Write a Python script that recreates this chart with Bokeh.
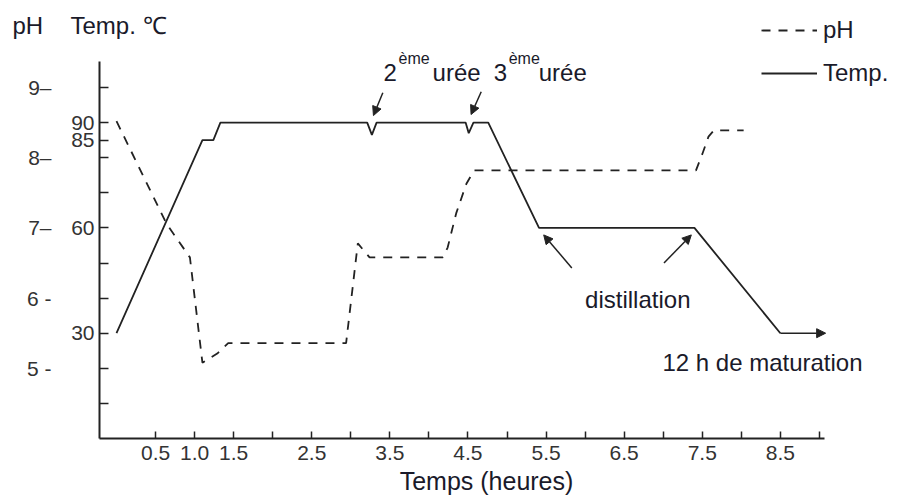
from bokeh.plotting import figure
from bokeh.models import (Range1d, LinearAxis, FixedTicker, CustomJSTickFormatter, Label,
                          Arrow, NormalHead, Legend, LegendItem)
from bokeh.embed import file_html
from bokeh.resources import INLINE

# ---------------- data ----------------
ph_time = [0.0, 0.64, 0.94, 1.10, 1.29, 1.43, 2.94, 3.09, 3.24, 4.18, 4.24, 4.35, 4.48, 4.58,
           7.42, 7.50, 7.58, 7.65, 8.03]
ph_values = [8.52, 7.06, 6.58, 5.08, 5.21, 5.36, 5.36, 6.78, 6.58, 6.58, 6.72, 7.21, 7.63, 7.82,
             7.82, 8.05, 8.30, 8.39, 8.39]

temp_time = [0.0, 1.10, 1.24, 1.33, 3.21, 3.27, 3.33, 4.47, 4.51, 4.57, 4.76, 5.41, 7.40, 8.50]
temp_values = [30, 85, 85, 90, 90, 86.5, 90, 90, 87, 90, 90, 60, 60, 30]

x_ticks = [0.5, 1.0, 1.5, 2.0, 2.5, 3.0, 3.5, 4.0, 4.5, 5.0, 5.5, 6.0, 6.5, 7.0, 7.5, 8.0, 8.5, 9.0]
x_tick_labels = ["0.5", "1.0", "1.5", "", "2.5", "", "3.5", "", "4.5", "", "5.5", "", "6.5", "",
                 "7.5", "", "8.5", ""]
ph_ticks = [5, 6, 7, 8, 9]
ph_tick_labels = ["5 -", "6 -", "7\u2013", "8\u2013", "9\u2013"]
temp_ticks = [10, 20, 30, 40, 50, 60, 70, 80, 85, 90, 100]
temp_tick_labels = ["", "", "30", "", "", "60", "", "", "85", "90", ""]

INK = "#222222"
TXT = "#1a1a2a"
TICK_TXT = "#333333"
FONT = "Liberation Sans"

W, H = 895, 496
# time axis: 78.1 px per hour, t = 0 at 116 px ; pH axis: 70.2 px per unit, pH 9 at 87 px
X_START, X_END = -116 / 78.1, (W - 116) / 78.1
PH_TOP, PH_BOTTOM = 9 + 87 / 70.2, 9 - (H - 87) / 70.2
T_AXIS_X = (99 - 116) / 78.1      # where the drawn vertical axis stands
PH_LABEL_X = (57 - 116) / 78.1    # column of the pH tick labels
BASE_FIX = 8                      # lift for alphabetic baselines


def t2ph(temp):
    """temperature scale is drawn against the pH scale: 30 C <-> pH 5.5, 90 C <-> pH 8.5"""
    return (temp + 80.0) / 20.0


p = figure(width=W, height=H, output_backend="svg", toolbar_location=None, tools="",
           x_range=Range1d(X_START, X_END), y_range=Range1d(PH_BOTTOM, PH_TOP),
           y_axis_location=None, title=None,
           min_border_left=0, min_border_right=0, min_border_top=0, min_border_bottom=0)
p.extra_y_ranges = {"temp": Range1d(20 * PH_BOTTOM - 80, 20 * PH_TOP - 80)}
p.outline_line_color = None
p.grid.visible = False
p.background_fill_color = "white"
p.border_fill_color = "white"

ph_line = p.line(ph_time, ph_values, line_dash="9 8", line_width=1.8, line_color=INK)
temp_line = p.line(temp_time, temp_values, y_range_name="temp", line_width=1.8, line_color=INK)

# x axis (drawn at pH 4.0)
xa = p.xaxis[0]
xa.fixed_location = 4.0
xa.ticker = FixedTicker(ticks=x_ticks)
xa.formatter = CustomJSTickFormatter(
    args=dict(labels={f"{t:.1f}": l for t, l in zip(x_ticks, x_tick_labels)}),
    code="const k = tick.toFixed(1); return (k in labels) ? labels[k] : '';")
xa.bounds = (T_AXIS_X, 9.06)
xa.major_tick_in = 7
xa.major_tick_out = 0
xa.minor_tick_line_color = None
xa.axis_line_width = 2
xa.axis_line_color = INK
xa.major_tick_line_width = 1.5
xa.major_tick_line_color = INK
xa.major_label_standoff = 7
xa.major_label_text_font = FONT
xa.major_label_text_font_size = "21px"
xa.major_label_text_color = TICK_TXT

# temperature axis (with the drawn axis line)
ta = LinearAxis(y_range_name="temp", fixed_location=T_AXIS_X, ticker=FixedTicker(ticks=temp_ticks),
                formatter=CustomJSTickFormatter(
                    args=dict(labels={str(t): l for t, l in zip(temp_ticks, temp_tick_labels)}),
                    code="const k = String(tick); return (k in labels) ? labels[k] : '';"),
                bounds=(0, 107.5), major_tick_in=9, major_tick_out=0,
                minor_tick_line_color=None, axis_line_width=2, axis_line_color=INK,
                major_tick_line_width=1.5, major_tick_line_color=INK,
                major_label_standoff=5, major_label_text_font=FONT,
                major_label_text_font_size="21px", major_label_text_color=TICK_TXT)
p.add_layout(ta, "left")

# pH axis (labels only)
pa = LinearAxis(fixed_location=PH_LABEL_X, ticker=FixedTicker(ticks=ph_ticks),
                formatter=CustomJSTickFormatter(
                    args=dict(labels={str(t): l for t, l in zip(ph_ticks, ph_tick_labels)}),
                    code="const k = String(tick); return (k in labels) ? labels[k] : '';"),
                axis_line_color=None, major_tick_line_color=None, minor_tick_line_color=None,
                major_tick_in=0, major_tick_out=0, major_label_standoff=6,
                major_label_text_font=FONT, major_label_text_font_size="21px",
                major_label_text_color=TICK_TXT)
p.add_layout(pa, "left")

legend = Legend(items=[LegendItem(label="pH", renderers=[ph_line]),
                       LegendItem(label="Temp.", renderers=[temp_line])],
                location=(761, 403), margin=0, padding=2, spacing=3,
                glyph_width=56, glyph_height=40, label_standoff=6,
                label_text_font=FONT, label_text_font_size="24px", label_text_color=TXT,
                border_line_color=None, background_fill_alpha=0)
p.add_layout(legend)


def slab(x, y, text, size="24px", align="left"):
    p.add_layout(Label(x=x, y=H - y + BASE_FIX, x_units="screen", y_units="screen", text=text,
                       text_font=FONT, text_font_size=size, text_color=TXT,
                       text_align=align, text_baseline="alphabetic"))


def dlab(t, ph, text, size="24px", dx=0, dy=0):
    p.add_layout(Label(x=t, y=ph, x_offset=dx, y_offset=dy + BASE_FIX, text=text,
                       text_font=FONT, text_font_size=size, text_color=TXT,
                       text_align="left", text_baseline="alphabetic"))


slab(12, 33, "pH")
slab(70, 33, "Temp. \u2103")
slab(486, 488, "Temps (heures)", "25px", "center")

dlab(3.42, 9.10, "2")
dlab(3.42, 9.10, "\u00e8me", "16px", dx=15, dy=14)
dlab(3.42, 9.10, "ur\u00e9e", dx=49)
dlab(4.83, 9.10, "3")
dlab(4.83, 9.10, "\u00e8me", "16px", dx=15, dy=14)
dlab(4.83, 9.10, "ur\u00e9e", dx=45)
dlab(6.00, 5.87, "distillation")
dlab(6.99, 4.97, "12 h de maturation")


def arr(t0, temp0, t1, temp1):
    p.add_layout(Arrow(end=NormalHead(size=9, fill_color=INK, line_color=INK),
                       x_start=t0, y_start=t2ph(temp0), x_end=t1, y_end=t2ph(temp1),
                       line_width=1.5, line_color=INK))


arr(3.41, 98.5, 3.29, 92.0)
arr(4.67, 98.8, 4.54, 92.3)
arr(5.83, 48.6, 5.47, 58.0)
arr(7.01, 50.0, 7.36, 58.0)
arr(8.50, 30.0, 9.08, 30.0)

open("out.html", "w").write(file_html(p, INLINE))
